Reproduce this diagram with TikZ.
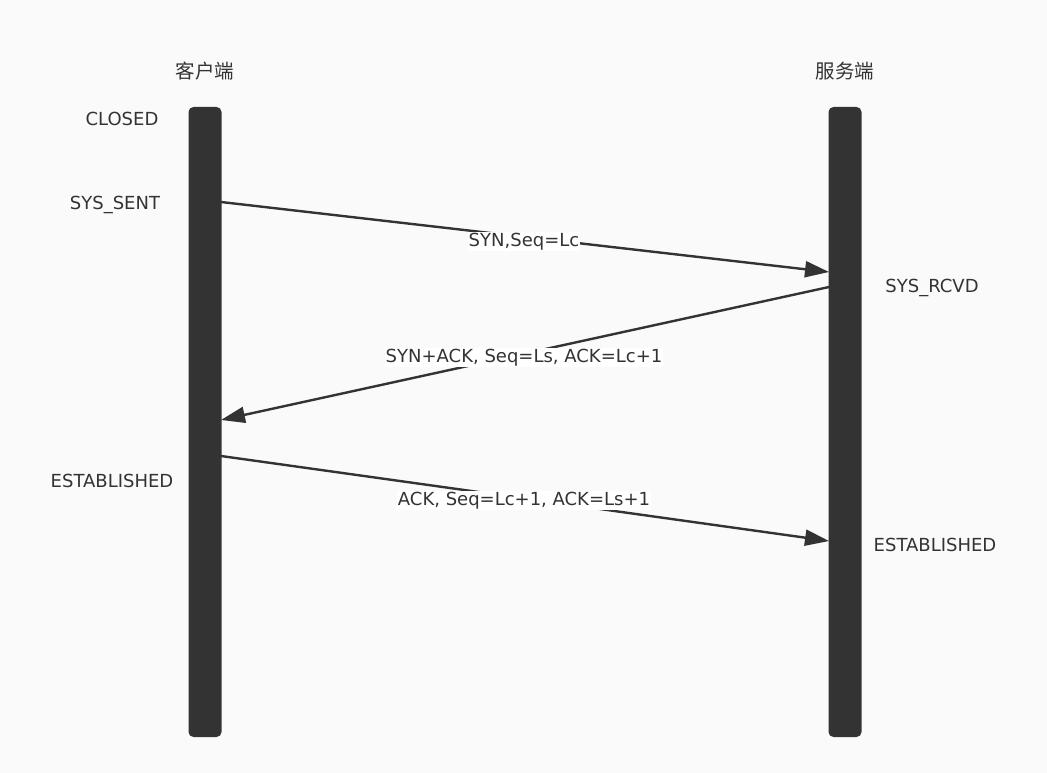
\documentclass[tikz,border=0pt]{standalone}
\usepackage{fontspec}
\setmainfont{DejaVu Sans}
\newfontfamily\cjk{Noto Sans CJK SC}
\usepackage{xcolor}
\usetikzlibrary{arrows.meta, positioning, calc}
\definecolor{bardark}{HTML}{333333}
\definecolor{bgpaper}{HTML}{FAFAFA}
\tikzset{
    lifeline/.style={fill=bardark, rounded corners=5pt, minimum width=33pt, minimum height=630pt, inner sep=0pt},
    statelbl/.style={text=bardark, font=\fontsize{18}{21}\selectfont},
    sidelbl/.style={text=bardark, font=\cjk\fontsize{19.5}{22}\selectfont},
    msglbl/.style={text=bardark, fill=white, inner sep=1pt, font=\fontsize{18}{21}\selectfont},
    msg/.style={draw=bardark, line width=2.4pt, -{Triangle[length=24pt, width=16pt]}}
}
\begin{document}
\begin{tikzpicture}[x=1pt, y=-1pt]
    \fill[bgpaper] (0,0) rectangle (1047,773);
    \useasboundingbox (0,0) rectangle (1047,773);

    \node[sidelbl] (cname) at (205, 71) {客户端};
    \node[sidelbl] (sname) at (845, 71) {服务端};

    \node[lifeline] (client) at (205, 422) {};
    \node[lifeline] (server) at (845, 422) {};

    \node[statelbl] (closed) at (122, 118.5) {CLOSED};
    \node[statelbl] (sent) at (115, 204.5) {SYS\_SENT};
    \node[statelbl] (cest) at (112, 480.5) {ESTABLISHED};
    \node[statelbl] (rcvd) at (932, 287.5) {SYS\_RCVD};
    \node[statelbl] (sest) at (935, 544.5) {ESTABLISHED};

    \coordinate (c1) at (221, 202);
    \coordinate (s1) at (829, 272);
    \coordinate (s2) at (829, 287);
    \coordinate (c2) at (221, 420);
    \coordinate (c3) at (221, 456);
    \coordinate (s3) at (829, 541);

    \draw[msg] (c1) -- (s1);
    \draw[msg] (s2) -- (c2);
    \draw[msg] (c3) -- (s3);

    \node[msglbl] (syn) at (524, 241.5) {SYN,Seq=Lc};
    \node[msglbl] (synack) at (524, 357.5) {SYN+ACK, Seq=Ls, ACK=Lc+1};
    \node[msglbl] (ack) at (524, 500.5) {ACK, Seq=Lc+1, ACK=Ls+1};
\end{tikzpicture}
\end{document}
